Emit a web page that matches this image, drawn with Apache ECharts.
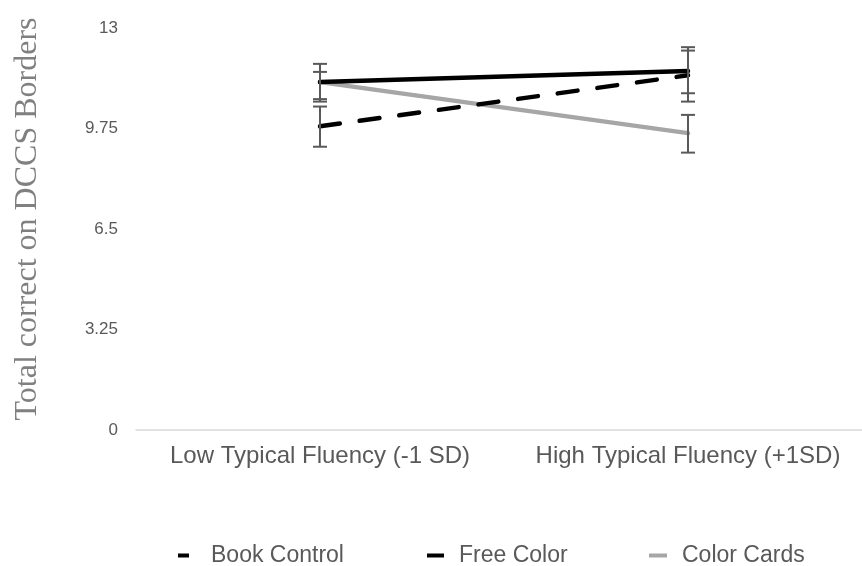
<!DOCTYPE html>
<html>
<head>
<meta charset="utf-8">
<script src="https://cdn.jsdelivr.net/npm/echarts@6/dist/echarts.min.js"></script>
<style>html,body{margin:0;padding:0;background:#fff}#c{width:862px;height:566px}</style>
</head>
<body>
<div id="c"></div>
<script>
const categories = ['Low Typical Fluency (-1 SD)', 'High Typical Fluency (+1SD)'];
const seriesNames = ['Book Control', 'Free Color', 'Color Cards'];
const bookControl = [9.82, 11.47];
const freeColor = [11.25, 11.61];
const colorCards = [11.25, 9.60];
const bookControlErrLow = [9.16, 10.62];
const bookControlErrHigh = [10.46, 12.27];
const freeColorErrLow = [10.62, 10.89];
const freeColorErrHigh = [11.84, 12.38];
const colorCardsErrLow = [10.70, 8.97];
const colorCardsErrHigh = [11.58, 10.19];
const yTicks = [0, 3.25, 6.5, 9.75, 13];

const chart = echarts.init(document.getElementById('c'), null, {renderer: 'canvas'});

function errSeries(lo, hi) {
  return {
    type: 'custom',
    silent: true,
    z: 5,
    data: categories.map((c, i) => [i, lo[i], hi[i]]),
    renderItem: function (params, api) {
      const x = api.value(0);
      const p1 = api.coord([x, api.value(1)]);
      const p2 = api.coord([x, api.value(2)]);
      const hw = 7;
      const st = {stroke: '#595959', lineWidth: 2};
      return {
        type: 'group',
        children: [
          {type: 'line', shape: {x1: p1[0], y1: p1[1], x2: p2[0], y2: p2[1]}, style: st},
          {type: 'line', shape: {x1: p1[0] - hw, y1: p1[1], x2: p1[0] + hw, y2: p1[1]}, style: st},
          {type: 'line', shape: {x1: p2[0] - hw, y1: p2[1], x2: p2[0] + hw, y2: p2[1]}, style: st}
        ]
      };
    }
  };
}

const fontSans = 'Liberation Sans, Arial, sans-serif';
function legendFor(name, left, iw, pad) {
  return {
    top: 539,
    left: left,
    icon: 'rect',
    itemWidth: iw,
    itemHeight: 4,
    textStyle: {color: '#595959', fontSize: 23, fontFamily: fontSans, padding: [0, 0, 0, pad]},
    data: [name]
  };
}

chart.setOption({
  animation: false,
  backgroundColor: '#ffffff',
  grid: {left: 136, width: 736, top: 28, bottom: 136, containLabel: false, outerBoundsMode: 'none'},
  legend: [
    legendFor(seriesNames[0], 173, 11, 17),
    legendFor(seriesNames[1], 422, 17, 10),
    legendFor(seriesNames[2], 644, 18, 10)
  ],
  xAxis: {
    type: 'category',
    data: categories,
    boundaryGap: true,
    axisLine: {lineStyle: {color: '#d9d9d9', width: 1.5}},
    axisTick: {show: false},
    axisLabel: {color: '#595959', fontSize: 24, fontFamily: fontSans, margin: 14, interval: 0, hideOverlap: false}
  },
  yAxis: {
    type: 'value',
    min: yTicks[0],
    max: yTicks[yTicks.length - 1],
    interval: yTicks[1] - yTicks[0],
    name: 'Total correct on DCCS Borders',
    nameLocation: 'middle',
    nameRotate: 90,
    nameGap: 92,
    nameTextStyle: {color: '#808080', fontSize: 32, fontFamily: 'Liberation Serif, Times New Roman, serif', padding: [0, 0, 0, 20]},
    axisLine: {show: false},
    axisTick: {show: false},
    splitLine: {show: false},
    axisLabel: {color: '#595959', fontSize: 17, fontFamily: fontSans, margin: 18}
  },
  series: [
    {
      name: seriesNames[0], type: 'line', data: bookControl, symbol: 'none', z: 3,
      lineStyle: {color: '#000000', width: 4.5, type: [20, 20], cap: 'round'},
      itemStyle: {color: '#000000'}
    },
    {
      name: seriesNames[1], type: 'line', data: freeColor, symbol: 'none', z: 4,
      lineStyle: {color: '#000000', width: 4.5, cap: 'round'},
      itemStyle: {color: '#000000'}
    },
    {
      name: seriesNames[2], type: 'line', data: colorCards, symbol: 'none', z: 2,
      lineStyle: {color: '#a6a6a6', width: 4.5, cap: 'round'},
      itemStyle: {color: '#a6a6a6'}
    },
    errSeries(bookControlErrLow, bookControlErrHigh),
    errSeries(freeColorErrLow, freeColorErrHigh),
    errSeries(colorCardsErrLow, colorCardsErrHigh)
  ]
});
</script>
</body>
</html>
